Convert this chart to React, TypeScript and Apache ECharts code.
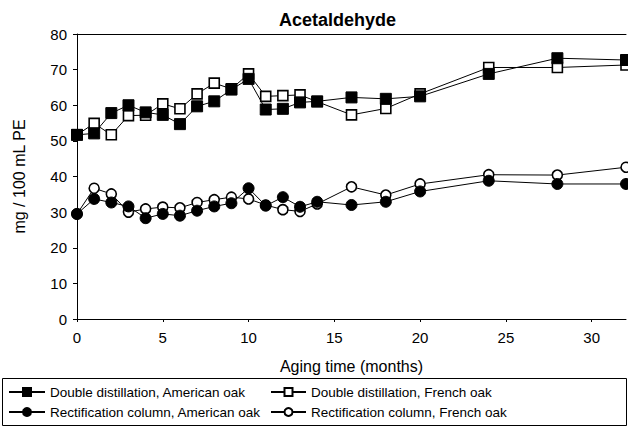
import React, { useEffect, useRef } from "react";
import * as echarts from "echarts";

const months = [0, 1, 2, 3, 4, 5, 6, 7, 8, 9, 10, 11, 12, 13, 14, 16, 18, 20, 24, 28, 32];
const ddAmerican = [51.7, 52.1, 57.8, 60, 58, 57.3, 54.7, 59.7, 61.1, 64.4, 67.4, 58.8, 59, 60.8, 61.1, 62.2, 61.8, 62.5, 68.8, 73.2, 72.7];
const ddFrench = [51.7, 54.9, 51.7, 57.1, 57.2, 60.4, 59, 63.2, 66.2, 64.6, 68.8, 62.5, 62.7, 62.9, 61, 57.3, 59.1, 63.2, 70.6, 70.6, 71.3];
const rcAmerican = [29.5, 33.7, 32.7, 31.6, 28.3, 29.5, 29, 30.4, 31.6, 32.5, 36.7, 31.8, 34.2, 31.5, 32.9, 32, 32.9, 35.8, 38.8, 37.9, 37.9];
const rcFrench = [29.5, 36.7, 35.1, 30, 30.9, 31.4, 31.2, 32.7, 33.5, 34.2, 33.7, 32, 30.7, 30.2, 32.3, 37.1, 34.8, 37.9, 40.5, 40.4, 42.6];
const xTicks = [0, 5, 10, 15, 20, 25, 30];

const names = {
  ddA: "Double distillation, American oak",
  ddF: "Double distillation, French oak",
  rcA: "Rectification column, American oak",
  rcF: "Rectification column, French oak",
};

const FONT = "'Liberation Sans', Arial, sans-serif";

export default function App() {
  const ref = useRef<HTMLDivElement>(null);
  useEffect(() => {
    if (!ref.current) return;
    const chart = echarts.init(ref.current, undefined, { renderer: "svg" });
    const pts = (ys: number[]) => months.map((m, i) => [m, ys[i]]);
    const mk = (name: string, ys: number[], symbol: string, filled: boolean, z: number) => ({
      name,
      type: "line",
      data: pts(ys),
      symbol,
      symbolSize: filled ? 11 : 10,
      clip: false,
      z,
      lineStyle: { color: "#000", width: 1 },
      itemStyle: { color: filled ? "#000" : "#fff", borderColor: "#000", borderWidth: filled ? 1 : 1.6 },
    });
    chart.setOption({
      animation: false,
      textStyle: { fontFamily: FONT },
      title: {
        text: "Acetaldehyde",
        left: 279,
        top: 11,
        padding: 0,
        textStyle: { fontFamily: FONT, fontSize: 18, fontWeight: "bold", color: "#000" },
      },
      grid: { left: 77, right: 2, top: 34, bottom: 109 },
      xAxis: [
        {
          type: "value",
          min: 0,
          max: 32,
          interval: 5,
          name: "Aging time (months)",
          nameLocation: "middle",
          nameGap: 39,
          nameTextStyle: { fontFamily: FONT, fontSize: 16, color: "#000" },
          axisLine: { lineStyle: { color: "#000", width: 1 } },
          axisTick: { length: 3, customValues: xTicks, lineStyle: { color: "#000" } },
          axisLabel: { customValues: xTicks, margin: 11, fontFamily: FONT, fontSize: 15, color: "#000" },
          splitLine: { show: false },
        },
        {
          type: "value",
          position: "top",
          min: 0,
          max: 32,
          axisLine: { show: true, lineStyle: { color: "#000", width: 1 } },
          axisTick: { show: false },
          axisLabel: { show: false },
          splitLine: { show: false },
        },
      ],
      yAxis: {
        type: "value",
        min: 0,
        max: 80,
        interval: 10,
        name: "mg / 100 mL PE",
        nameLocation: "middle",
        nameGap: 50,
        nameTextStyle: { fontFamily: FONT, fontSize: 16, color: "#000000" },
        axisLine: { show: true, lineStyle: { color: "#000", width: 1 } },
        axisTick: { show: true, length: 4, lineStyle: { color: "#000" } },
        axisLabel: { margin: 10, fontFamily: FONT, fontSize: 15, color: "#000" },
        splitLine: { show: false },
      },
      legend: [
        {
          orient: "vertical",
          left: 8,
          top: 385,
          itemWidth: 36,
          itemHeight: 10,
          itemGap: 6,
          itemTextGap: 2,
          padding: 0,
          data: [names.ddA, names.rcA],
          textStyle: { fontFamily: FONT, fontSize: 13.5, color: "#000" },
        },
        {
          orient: "vertical",
          left: 270,
          top: 385,
          itemWidth: 35,
          itemHeight: 10,
          itemGap: 6,
          itemTextGap: 2,
          padding: 0,
          data: [names.ddF, names.rcF],
          textStyle: { fontFamily: FONT, fontSize: 13.5, color: "#000" },
        },
      ],
      graphic: [
        {
          type: "rect",
          shape: { x: 2.5, y: 378.5, width: 624, height: 47 },
          style: { fill: "none", stroke: "#000", lineWidth: 1 },
          silent: true,
        },
      ],
      series: [
        mk(names.ddF, ddFrench, "rect", false, 2),
        mk(names.rcF, rcFrench, "circle", false, 2),
        mk(names.ddA, ddAmerican, "rect", true, 3),
        mk(names.rcA, rcAmerican, "circle", true, 3),
      ],
    });
    return () => chart.dispose();
  }, []);
  return <div ref={ref} style={{ width: 628, height: 428, position: "fixed", left: 0, top: 0, background: "#fff" }} />;
}
